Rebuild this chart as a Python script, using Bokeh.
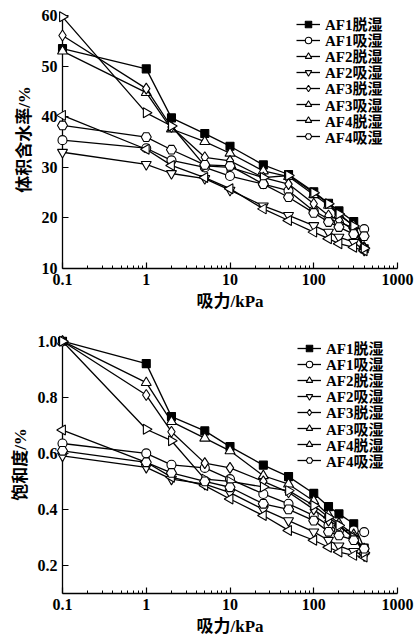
import math
from bokeh.plotting import figure
from bokeh.models import Range1d, FixedTicker, CustomJSTickFormatter, PrintfTickFormatter, Legend, LegendItem
from bokeh.layouts import column
from bokeh.embed import file_html
from bokeh.resources import INLINE

# ---------------- data ----------------
suction = [0.1, 1, 2, 5, 10, 25, 50, 100, 150, 200, 300, 400]
series_names = ["AF1脱湿", "AF1吸湿", "AF2脱湿", "AF2吸湿", "AF3脱湿", "AF3吸湿", "AF4脱湿", "AF4吸湿"]

# volumetric water content (%)
vwc_af1_dry = [53.5, 49.5, 39.8, 36.7, 34.2, 30.5, 28.6, 25.2, 22.9, 21.4, 19.3, 13.9]
vwc_af1_wet = [35.4, 33.8, 31.4, 30.0, 28.3, 26.7, 25.4, 21.4, 19.8, 19.1, 18.1, 17.8]
vwc_af2_dry = [53.0, 44.8, 37.6, 35.1, 32.8, 29.3, 28.2, 24.6, 22.5, 20.6, 18.5, 14.2]
vwc_af2_wet = [33.0, 30.6, 28.8, 27.8, 25.5, 22.4, 20.5, 18.5, 17.2, 16.2, 15.2, 13.6]
vwc_af3_dry = [56.1, 45.6, 38.0, 32.0, 31.3, 28.0, 26.7, 22.8, 20.5, 19.6, 17.5, 14.0]
vwc_af3_wet = [40.3, 33.6, 30.4, 28.0, 25.8, 21.8, 19.5, 17.2, 15.9, 14.9, 14.2, 13.5]
vwc_af4_dry = [59.8, 40.8, 38.2, 30.3, 30.0, 28.0, 28.4, 25.0, 22.8, 20.8, 18.4, 14.0]
vwc_af4_wet = [38.3, 36.0, 33.5, 30.5, 30.3, 26.7, 24.1, 21.0, 19.2, 18.2, 16.8, 16.4]

# degree of saturation
sat_af1_dry = [1.0, 0.92, 0.731, 0.68, 0.624, 0.558, 0.517, 0.457, 0.41, 0.384, 0.349, 0.262]
sat_af1_wet = [0.635, 0.60, 0.559, 0.548, 0.508, 0.455, 0.42, 0.378, 0.343, 0.325, 0.325, 0.319]
sat_af2_dry = [1.0, 0.852, 0.713, 0.654, 0.609, 0.52, 0.49, 0.43, 0.38, 0.35, 0.31, 0.25]
sat_af2_wet = [0.591, 0.55, 0.508, 0.49, 0.46, 0.40, 0.36, 0.32, 0.29, 0.27, 0.25, 0.235]
sat_af3_dry = [1.0, 0.808, 0.677, 0.565, 0.548, 0.50, 0.461, 0.40, 0.36, 0.34, 0.30, 0.26]
sat_af3_wet = [0.683, 0.568, 0.515, 0.485, 0.437, 0.378, 0.325, 0.29, 0.265, 0.248, 0.236, 0.23]
sat_af4_dry = [1.0, 0.686, 0.645, 0.508, 0.50, 0.48, 0.467, 0.414, 0.372, 0.343, 0.30, 0.245]
sat_af4_wet = [0.609, 0.568, 0.53, 0.50, 0.479, 0.42, 0.40, 0.36, 0.32, 0.307, 0.29, 0.26]

x_ticks = [0.1, 1, 10, 100, 1000]
vwc_ticks = [10, 20, 30, 40, 50, 60]
sat_ticks = [0.2, 0.4, 0.6, 0.8, 1.0]

vwc_series = [vwc_af1_dry, vwc_af1_wet, vwc_af2_dry, vwc_af2_wet, vwc_af3_dry, vwc_af3_wet, vwc_af4_dry, vwc_af4_wet]
sat_series = [sat_af1_dry, sat_af1_wet, sat_af2_dry, sat_af2_wet, sat_af3_dry, sat_af3_wet, sat_af4_dry, sat_af4_wet]

# ---------------- styles ----------------
MARKERS = [
    ("square", 8, 0.0, "black"),
    ("circle", 9, 0.0, "white"),
    ("triangle", 10, 0.0, "white"),
    ("inverted_triangle", 10, 0.0, "white"),
    ("diamond", 11, 0.0, "white"),
    ("triangle", 10, math.pi / 2, "white"),
    ("triangle", 10, -math.pi / 2, "white"),
    ("hex", 10, 0.0, "white"),
]
LATIN = "Liberation Serif"
MIXED = "'Liberation Serif', 'Noto Sans CJK SC'"
minor = [k * 10.0 ** e for e in range(-1, 3) for k in range(2, 10)]
ROW = 16.1


def make_panel(series, y_start, y_end, y_top, yticks, ylabel, yfmt, height,
               border_top, border_bottom, legend_x, legend_y0):
    p = figure(width=415, height=height, x_axis_type="log",
               x_range=Range1d(0.1, 1000), y_range=Range1d(y_start, y_end),
               output_backend="svg", toolbar_location=None,
               min_border_left=62, min_border_right=18,
               min_border_top=border_top, min_border_bottom=border_bottom)
    p.outline_line_color = None
    p.xgrid.visible = False
    p.ygrid.visible = False
    p.background_fill_color = "white"

    for i, (name, ys, (mk, sz, ang, fill)) in enumerate(zip(series_names, series, MARKERS)):
        lr = p.line(suction, ys, line_color="black", line_width=1.3, level="overlay")
        sr = p.scatter(suction, ys, marker=mk, size=sz, angle=ang,
                       fill_color=fill, line_color="black", line_width=1.1,
                       level="overlay")
        item = LegendItem(label=name, renderers=[lr, sr])
        legend = Legend(items=[item], location=(legend_x, legend_y0 - ROW * i))
        legend.border_line_color = None
        legend.background_fill_alpha = 0
        legend.margin = 0
        legend.padding = 0
        legend.spacing = 0
        legend.glyph_width = 24
        legend.glyph_height = 16
        legend.label_height = 16
        legend.label_standoff = 5
        legend.label_text_font = MIXED
        legend.label_text_font_style = "bold"
        legend.label_text_font_size = "15px"
        legend.label_text_color = "black"
        p.add_layout(legend)

    xa = p.xaxis[0]
    xa.ticker = FixedTicker(ticks=x_ticks, minor_ticks=minor)
    xa.formatter = CustomJSTickFormatter(code="return tick < 1 ? tick.toFixed(1) : tick.toFixed(0);")
    xa.axis_label = "吸力/kPa"

    ya = p.yaxis[0]
    ya.ticker = FixedTicker(ticks=yticks, minor_ticks=[])
    ya.formatter = yfmt
    ya.bounds = (y_start, y_top)
    ya.axis_label = ylabel

    for ax in (xa, ya):
        ax.axis_line_color = "black"
        ax.axis_line_width = 1.3
        ax.major_tick_line_color = "black"
        ax.major_tick_line_width = 1.2
        ax.minor_tick_line_color = "black"
        ax.minor_tick_line_width = 1.0
        ax.major_tick_in = 6
        ax.major_tick_out = 0
        ax.minor_tick_in = 3
        ax.minor_tick_out = 0
        ax.major_label_text_font = LATIN
        ax.major_label_text_font_style = "bold"
        ax.major_label_text_font_size = "16px"
        ax.major_label_text_color = "black"
        ax.axis_label_text_font = MIXED
        ax.axis_label_text_font_style = "bold"
        ax.axis_label_text_font_size = "17px"
        ax.axis_label_text_color = "black"
    xa.major_label_standoff = 5
    xa.axis_label_standoff = 4
    ya.major_label_standoff = 5
    ya.axis_label_standoff = 5
    return p


p1 = make_panel(vwc_series, 10, 61.05, 60, vwc_ticks, "体积含水率/%",
                PrintfTickFormatter(format="%d"), 320, 10, 52, 234, 234)
p2 = make_panel(sat_series, 0.1, 1.0203, 1.0, sat_ticks, "饱和度/%",
                PrintfTickFormatter(format="%.1f"), 320, 15, 47, 235, 235)

layout = column(p1, p2, spacing=0)
open("out.html", "w").write(file_html(layout, INLINE))
